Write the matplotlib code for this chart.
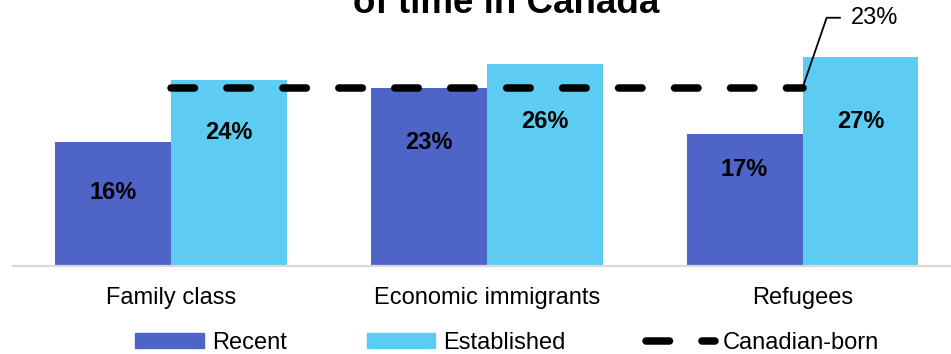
import matplotlib.pyplot as plt
from matplotlib.patches import Patch
from matplotlib.lines import Line2D
import numpy as np

plt.rcParams['font.family'] = ['Liberation Sans', 'DejaVu Sans']

categories = ['Family class', 'Economic immigrants', 'Refugees']
recent = [16, 23, 17]
established = [24, 26, 27]
canadian_born = 23

# where the value labels sit inside each bar (in % units)
recent_label_y = [9.5, 15.9, 12.5]
established_label_y = [17.2, 18.6, 18.6]

recent_color = '#4E65C7'
established_color = '#5DCCF2'

fig = plt.figure(figsize=(9.51, 3.54), dpi=100)
ax = fig.add_axes([13/951, 88/354, 1 - 13/951, 266/354])

x = np.arange(len(categories))
w = 0.367
ax.bar(x - w/2, recent, w, color=recent_color, zorder=2)
ax.bar(x + w/2, established, w, color=established_color, zorder=2)

for i in range(len(categories)):
	ax.text(x[i] - w/2, recent_label_y[i], '%d%%' % recent[i], ha='center', va='center',
			fontsize=17, fontweight='bold', zorder=4)
	ax.text(x[i] + w/2, established_label_y[i], '%d%%' % established[i], ha='center', va='center',
			fontsize=17, fontweight='bold', zorder=4)

# Canadian-born reference line
lw = 5.4
ax.plot(x, [canadian_born]*len(x), color='black', lw=lw, dashes=(3.13, 4.33),
		dash_capstyle='round', solid_capstyle='round', zorder=3)

ax.annotate('%d%%' % canadian_born, xy=(x[-1], canadian_born), xytext=(48, 70),
			textcoords='offset pixels', ha='left', va='center', fontsize=17,
			arrowprops=dict(arrowstyle='-', color='black', lw=1.3, relpos=(0, 0.5),
							connectionstyle='angle,angleA=0,angleB=71,rad=0',
							shrinkA=5.5, shrinkB=0),
			annotation_clip=False, zorder=5)

ax.set_xlim(-0.5, 2.47)
ax.set_ylim(0, 266/7.75)
ax.set_yticks([])
ax.set_xticks(x)
ax.set_xticklabels(categories, fontsize=17)
ax.tick_params(axis='x', length=0, pad=15)
for s in ['top', 'right', 'left']:
	ax.spines[s].set_visible(False)
ax.spines['bottom'].set_color('#D9D9D9')
ax.spines['bottom'].set_linewidth(1.6)
ax.patch.set_visible(False)

fig.text(506/951, 1 - 13/354, 'of time in Canada', ha='center', va='baseline',
		 fontsize=26.5, fontweight='bold')

handles = [Patch(color=recent_color), Patch(color=established_color),
		   Line2D([], [], color='black', lw=lw, dashes=(3.13, 4.33), dash_capstyle='round')]
fig.legend(handles, ['Recent', 'Established', 'Canadian-born'], loc='center',
		   bbox_to_anchor=(507/951, 1 - 343/354), ncol=3, frameon=False, fontsize=17,
		   handlelength=2.9, handleheight=0.6, handletextpad=0.34, columnspacing=3.4,
		   borderpad=0, borderaxespad=0)

fig.savefig('out.png', dpi=100)
